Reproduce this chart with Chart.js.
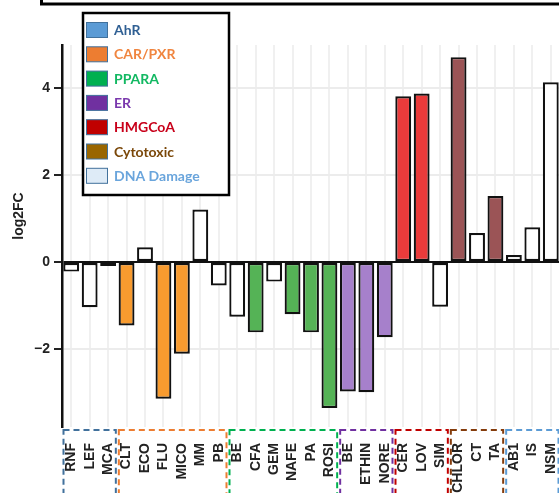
<!DOCTYPE html>
<html>
<head>
<meta charset="utf-8">
<script src="https://cdn.jsdelivr.net/npm/chart.js@4.4.1/dist/chart.umd.min.js"></script>
<style>
  html, body { margin: 0; padding: 0; background: #fff; overflow: hidden; }
  #wrap { position: relative; width: 565px; height: 493px; }
</style>
</head>
<body>
<div id="wrap"><canvas id="c"></canvas></div>
<script>
// Compounds, grouped by mode of action
const compounds = ['RNF','LEF','MCA','CLT','ECO','FLU','MICO','MM','PB','BE','CFA','GEM','NAFE','PA','ROSI',
                   'BE','ETHIN','NORE','CER','LOV','SIM','CHLOR','CT','TA','AB1','IS','NSM'];
const log2FC = [-0.22,-1.04,-0.09,-1.46,0.34,-3.15,-2.11,1.21,-0.54,-1.26,-1.62,-0.45,-1.20,-1.62,-3.36,
                -2.98,-3.00,-1.73,3.82,3.88,-1.03,4.72,0.67,1.52,0.16,0.80,4.14];
// group index of each compound (into groupNames)
const groupOf = [0,0,0,1,1,1,1,1,1,2,2,2,2,2,2,3,3,3,4,4,4,5,5,5,6,6,6];
// whether the compound hits its expected pathway (filled) or not (open)
const hit = [0,0,1,1,0,1,1,0,0,0,1,0,1,1,1,1,1,1,1,1,0,1,0,1,0,0,0];
const groupNames = ['AhR','CAR/PXR','PPARA','ER','HMGCoA','Cytotoxic','DNA Damage'];
const yTickValues = [-2, 0, 2, 4];

// styling
const barFill = ['#4a8fca','#f89b2f','#55b356','#a680cb','#ea3b3b','#9b5456','#ffffff'];
const swatchFill = ['#5b9bd5','#ed7d31','#00b050','#7030a0','#c00000','#996600','#deebf7'];
const legendText = ['#2f5f93','#f0853f','#12b862','#7a38ad','#c8001a','#7a4708','#6aa5dc'];
const boxStroke = ['#41719c','#ed7d31','#00b050','#7030a0','#c00000','#843c0c','#5b9bd5'];

const decor = {
  id: 'decor',
  afterDraw(chart) {
    const { ctx, chartArea, scales: { x } } = chart;
    ctx.save();

    // frame edge of the neighbouring panel
    ctx.strokeStyle = '#000';
    ctx.lineWidth = 3;
    ctx.strokeRect(41.5, -20, 700, 24);

    // dashed boxes around each group of compound labels
    const half = (x.getPixelForValue(1) - x.getPixelForValue(0)) / 2;
    ctx.lineWidth = 2;
    ctx.setLineDash([6, 4]);
    groupNames.forEach((g, gi) => {
      const idx = groupOf.map((v, i) => v === gi ? i : -1).filter(i => i >= 0);
      const l = x.getPixelForValue(idx[0]) - half + 1.5;
      const r = x.getPixelForValue(idx[idx.length - 1]) + half - 1.5;
      const t = chartArea.bottom + 3;
      ctx.strokeStyle = boxStroke[gi];
      ctx.strokeRect(l, t, r - l, 200);
    });
    ctx.setLineDash([]);

    // legend
    const lx = 83, ly = 13, lw = 146, lh = 182;
    ctx.fillStyle = '#fff';
    ctx.fillRect(lx, ly, lw, lh);
    ctx.strokeStyle = '#000';
    ctx.lineWidth = 2.5;
    ctx.strokeRect(lx, ly, lw, lh);
    ctx.font = 'bold 14px Lato, "Open Sans", sans-serif';
    ctx.textBaseline = 'middle';
    groupNames.forEach((g, gi) => {
      const cy = 30 + gi * 24.3;
      ctx.fillStyle = swatchFill[gi];
      ctx.fillRect(86, cy - 7.5, 22, 15);
      ctx.strokeStyle = '#41719c';
      ctx.lineWidth = 1;
      ctx.strokeRect(86.5, cy - 7.5, 21, 15);
      ctx.fillStyle = legendText[gi];
      ctx.fillText(g, 114, cy + 0.5);
    });

    // y axis title
    ctx.save();
    ctx.translate(19, (chartArea.top + chartArea.bottom) / 2 - 20);
    ctx.rotate(-Math.PI / 2);
    ctx.font = 'bold 14px "Liberation Sans", Arial, sans-serif';
    ctx.fillStyle = '#222';
    ctx.textAlign = 'center';
    ctx.textBaseline = 'middle';
    ctx.fillText('log2FC', 0, 0);
    ctx.restore();

    ctx.restore();
  }
};

new Chart(document.getElementById('c'), {
  type: 'bar',
  data: {
    labels: compounds,
    datasets: [{
      data: log2FC,
      backgroundColor: log2FC.map((_, i) => hit[i] ? barFill[groupOf[i]] : '#ffffff'),
      borderColor: '#111',
      borderWidth: 2.2,
      borderSkipped: false,
      categoryPercentage: 1,
      barPercentage: 0.86
    }]
  },
  options: {
    responsive: true,
    maintainAspectRatio: false,
    animation: false,
    layout: { padding: { top: 45, right: 5, left: 0, bottom: 0 } },
    plugins: { legend: { display: false }, tooltip: { enabled: false } },
    scales: {
      x: {
        offset: true,
        grid: { offset: false, color: '#f0f0f0', lineWidth: 2, drawTicks: false },
        border: { display: false },
        ticks: {
          autoSkip: false, minRotation: 90, maxRotation: 90, padding: 16,
          color: '#222',
          font: { family: '"Liberation Sans", Arial, sans-serif', size: 14, weight: 'bold' }
        },
        afterFit(scale) {
          scale.height = 66;
          scale.paddingLeft = 0;
          scale.paddingRight = 0;
        }
      },
      y: {
        min: -3.8, max: 5,
        afterBuildTicks(scale) { scale.ticks = yTickValues.map(v => ({ value: v })); },
        grid: {
          color: c => c.tick && c.tick.value === 0 ? '#111' : '#ececec',
          lineWidth: 2,
          tickColor: '#222',
          tickLength: 8
        },
        border: { display: true, color: '#111', width: 2.5 },
        ticks: {
          padding: 4, color: '#222',
          font: { family: '"Liberation Sans", Arial, sans-serif', size: 14, weight: 'bold' },
          callback: v => v < 0 ? '\u2212' + Math.abs(v) : String(v)
        },
        afterFit(scale) {
          scale.width = 62;
          scale.paddingTop = 0;
          scale.paddingBottom = 0;
        }
      }
    }
  },
  plugins: [decor]
});
</script>
</body>
</html>
